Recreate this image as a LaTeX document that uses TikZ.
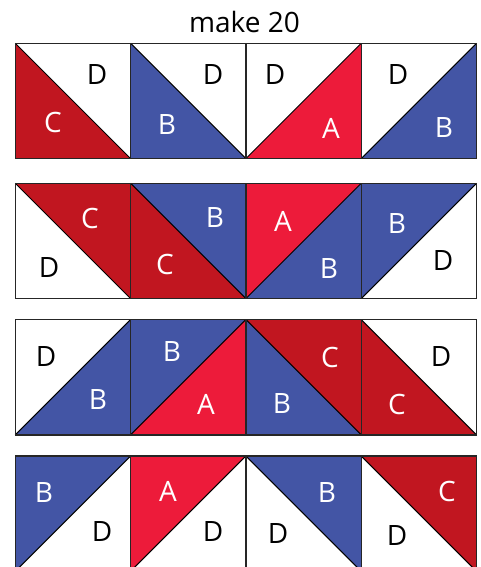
\documentclass[tikz,border=0pt]{standalone}
\usepackage{fontspec}
\setmainfont{Open Sans}
\definecolor{colA}{RGB}{237,27,58}
\definecolor{colB}{RGB}{67,85,165}
\definecolor{colC}{RGB}{193,22,32}
\def\S{115.3}
\newcommand\sqdown[3]{\begin{scope}[shift={#1}]
  \fill[#2] (0,0)--(0,\S)--(\S,\S)--cycle;
  \fill[#3] (0,0)--(\S,0)--(\S,\S)--cycle;
  \draw[diag] (0,0)--(\S,\S);
  \draw[edge] (0,0) rectangle (\S,\S);
\end{scope}}
\newcommand\squp[3]{\begin{scope}[shift={#1}]
  \fill[#2] (0,0)--(\S,0)--(0,\S)--cycle;
  \fill[#3] (\S,0)--(\S,\S)--(0,\S)--cycle;
  \draw[diag] (0,\S)--(\S,0);
  \draw[edge] (0,0) rectangle (\S,\S);
\end{scope}}
\tikzset{
  fA/.style={fill=colA}, fB/.style={fill=colB}, fC/.style={fill=colC}, fD/.style={fill=white},
  diag/.style={draw=black, line width=1pt},
  edge/.style={draw=black!85, line width=1.4pt},
  lab/.style={inner sep=0pt, font=\fontsize{28}{30}\selectfont},
  wl/.style={lab, text=white},
  bl/.style={lab, text=black},
}
\begin{document}
\begin{tikzpicture}[x=1pt,y=-1pt]
\useasboundingbox (0,0) rectangle (481,567);
\clip (0,0) rectangle (481,567);
\node[bl, anchor=base] (title) at (244.5,32.7) {make 20};
% row 1
\sqdown{(15.3,43.3)}{fC}{fD}
\sqdown{(130.6,43.3)}{fB}{fD}
\squp{(245.9,43.3)}{fD}{fA}
\squp{(361.2,43.3)}{fD}{fB}
% row 2
\sqdown{(15.3,183.3)}{fD}{fC}
\sqdown{(130.6,183.3)}{fC}{fB}
\squp{(245.9,183.3)}{fA}{fB}
\squp{(361.2,183.3)}{fB}{fD}
% row 3
\squp{(15.3,319.5)}{fD}{fB}
\squp{(130.6,319.5)}{fB}{fA}
\sqdown{(245.9,319.5)}{fB}{fC}
\sqdown{(361.2,319.5)}{fC}{fD}
% row 4
\squp{(15.3,456)}{fB}{fD}
\squp{(130.6,456)}{fA}{fD}
\sqdown{(245.9,456)}{fD}{fB}
\sqdown{(361.2,456)}{fD}{fC}
% labels row 1
\node[bl] (r1a) at (97,75) {D};
\node[wl] (r1b) at (53,122) {C};
\node[bl] (r1c) at (213,75) {D};
\node[wl] (r1d) at (167,125) {B};
\node[bl] (r1e) at (275,75) {D};
\node[wl] (r1f) at (331,128) {A};
\node[bl] (r1g) at (398,75) {D};
\node[wl] (r1h) at (444,128) {B};
% labels row 2
\node[wl] (r2a) at (90,218) {C};
\node[bl] (r2b) at (49,268) {D};
\node[wl] (r2c) at (215,218) {B};
\node[wl] (r2d) at (165,264) {C};
\node[wl] (r2e) at (283,221) {A};
\node[wl] (r2f) at (329,269) {B};
\node[wl] (r2g) at (397,224) {B};
\node[bl] (r2h) at (443,261) {D};
% labels row 3
\node[bl] (r3a) at (46,357) {D};
\node[wl] (r3b) at (98,400) {B};
\node[wl] (r3c) at (172,352) {B};
\node[wl] (r3d) at (206,404) {A};
\node[wl] (r3e) at (330,357) {C};
\node[wl] (r3f) at (282,404) {B};
\node[bl] (r3g) at (441,357) {D};
\node[wl] (r3h) at (397,404) {C};
% labels row 4
\node[wl] (r4a) at (44,493) {B};
\node[bl] (r4b) at (102,531) {D};
\node[wl] (r4c) at (168,491) {A};
\node[bl] (r4d) at (213,531) {D};
\node[wl] (r4e) at (327,493) {B};
\node[bl] (r4f) at (278,533) {D};
\node[wl] (r4g) at (447,491) {C};
\node[bl] (r4h) at (397,535) {D};
\end{tikzpicture}
\end{document}
